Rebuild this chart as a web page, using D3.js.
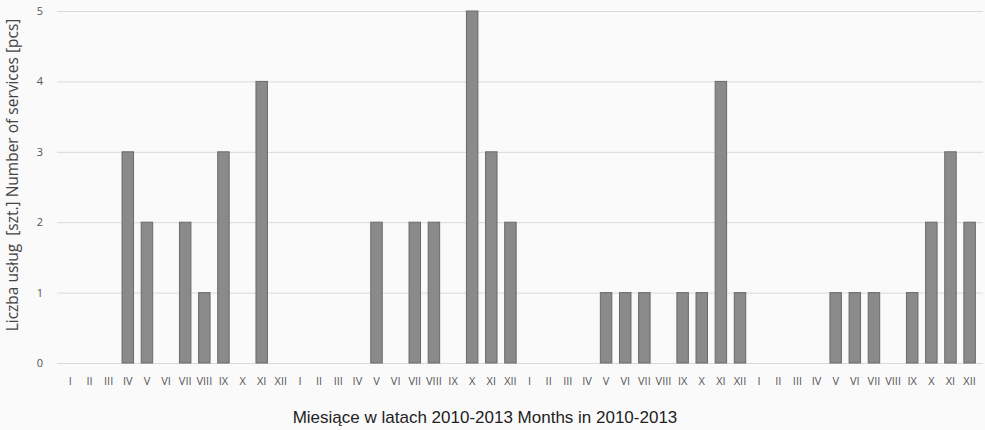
<!DOCTYPE html>
<html>
<head>
<meta charset="utf-8">
<script src="https://cdn.jsdelivr.net/npm/d3@7"></script>
<style>
  html, body { margin: 0; padding: 0; background: #fafafa; overflow: hidden; }
  svg { display: block; }
</style>
</head>
<body>
<svg id="chart" width="985" height="430"></svg>
<script>
const monthLabels = ["I", "II", "III", "IV", "V", "VI", "VII", "VIII", "IX", "X", "XI", "XII"];
const years = [2010, 2011, 2012, 2013];
const values2010 = [0, 0, 0, 3, 2, 0, 2, 1, 3, 0, 4, 0];
const values2011 = [0, 0, 0, 0, 2, 0, 2, 2, 0, 5, 3, 2];
const values2012 = [0, 0, 0, 0, 1, 1, 1, 0, 1, 1, 4, 1];
const values2013 = [0, 0, 0, 0, 1, 1, 1, 0, 1, 2, 3, 2];
const yTicks = [0, 1, 2, 3, 4, 5];

const seriesByYear = [values2010, values2011, values2012, values2013];
const data = [];
years.forEach((y, yi) => {
    monthLabels.forEach((m, mi) => {
        data.push({ key: y + "-" + mi, label: m, value: seriesByYear[yi][mi] });
    });
});

const svg = d3.select("#chart");
const margin = { top: 11, right: 2, bottom: 67, left: 57 };
const width = +svg.attr("width");
const height = +svg.attr("height");
const innerWidth = width - margin.left - margin.right;
const innerHeight = height - margin.top - margin.bottom;

const g = svg.append("g")
    .attr("transform", `translate(${margin.left},${margin.top})`);

const xScale = d3.scaleBand()
    .domain(data.map(d => d.key))
    .range([0, innerWidth])
    .padding(0.4);

const yScale = d3.scaleLinear()
    .domain([0, 5])
    .range([innerHeight, 0]);

// gridlines
g.selectAll(".grid")
    .data(yTicks)
    .enter().append("line")
    .attr("class", "grid")
    .attr("x1", 0)
    .attr("x2", innerWidth)
    .attr("y1", d => yScale(d) + 0.5)
    .attr("y2", d => yScale(d) + 0.5)
    .attr("stroke", "#d9d9d9")
    .attr("stroke-width", 1);

const yAxis = d3.axisLeft(yScale).tickValues(yTicks).tickFormat(d3.format("d")).tickSize(0).tickPadding(14);
g.append("g")
    .call(yAxis)
    .call(s => s.select(".domain").remove())
    .selectAll("text")
    .attr("fill", "#555")
    .style("font-family", "'Open Sans', sans-serif")
    .style("font-size", "11px");

const xAxis = d3.axisBottom(xScale).tickFormat(k => data.find(d => d.key === k).label).tickSize(0).tickPadding(14);
g.append("g")
    .attr("transform", `translate(0,${innerHeight})`)
    .call(xAxis)
    .call(s => s.select(".domain").remove())
    .selectAll("text")
    .attr("fill", "#555")
    .style("font-family", "'Open Sans', sans-serif")
    .style("font-size", "11px");

g.selectAll(".bar")
    .data(data.filter(d => d.value > 0))
    .enter().append("rect")
    .attr("class", "bar")
    .attr("x", d => xScale(d.key))
    .attr("y", d => yScale(d.value))
    .attr("width", xScale.bandwidth())
    .attr("height", d => innerHeight - yScale(d.value))
    .attr("fill", "#8a8a8a")
    .attr("stroke", "#6a6a6a")
    .attr("stroke-width", 1);

svg.append("text")
    .attr("transform", "translate(18,175) rotate(-90)")
    .attr("text-anchor", "middle")
    .attr("fill", "#444")
    .style("font-family", "'Open Sans', sans-serif")
    .style("font-size", "15.5px")
    .style("white-space", "pre")
    .text("Liczba usług  [szt.] Number of services [pcs]");

svg.append("text")
    .attr("x", 485)
    .attr("y", 423)
    .attr("text-anchor", "middle")
    .attr("fill", "#222")
    .style("font-family", "'Liberation Sans', Arial, sans-serif")
    .style("font-size", "17px")
    .text("Miesiące w latach 2010-2013 Months in 2010-2013");
</script>
</body>
</html>
